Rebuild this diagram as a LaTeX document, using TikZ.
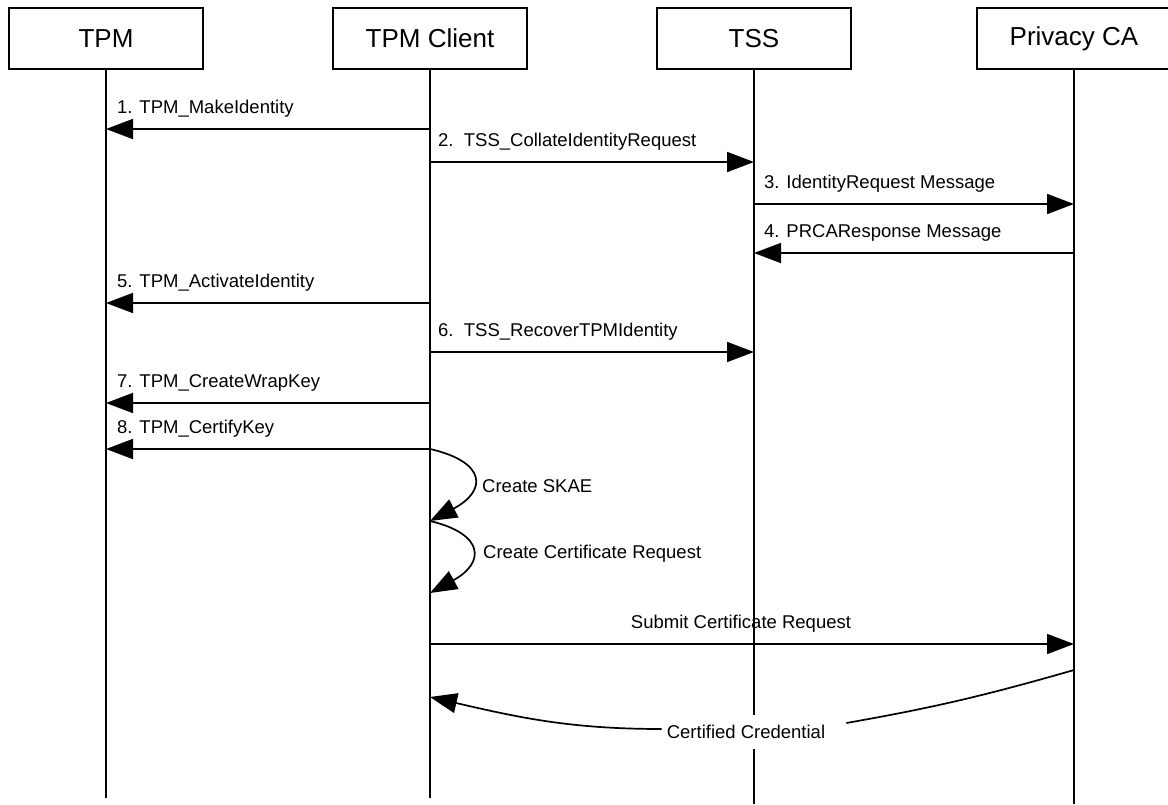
\documentclass[tikz,border=0pt]{standalone}
\usepackage{fontspec}
\setmainfont{Liberation Sans}
\usetikzlibrary{arrows.meta}
\tikzset{
  actor/.style={draw,line width=1.5pt,minimum width=194pt,minimum height=61pt,
    font=\fontsize{26}{30}\selectfont},
  life/.style={line width=1.5pt},
  msg/.style={line width=1.7pt,-{Triangle[length=27pt,width=20pt]}},
  lbl/.style={anchor=base west,inner sep=0pt,font=\fontsize{18.5}{22}\selectfont},
}
\begin{document}
\begin{tikzpicture}[x=1pt,y=-1pt]
  \useasboundingbox (0,0) rectangle (1168,804);
  \node[actor] (tpm) at (106,38.5) {TPM};
  \node[actor] (client) at (430,38.5) {TPM Client};
  \node[actor] (tss) at (754,38.5) {TSS};
  \node[actor] (pca) at (1074,38.5) {Privacy CA};
  \coordinate (short) at (0,798);
  \coordinate (long) at (0,804);
  \foreach \n/\e in {tpm/short,client/short,tss/long,pca/long}
    \draw[life] (\n.south) -- (\n |- \e);
  \coordinate (r1) at (0,129);
  \coordinate (r2) at (0,162);
  \coordinate (r3) at (0,204);
  \coordinate (r4) at (0,253);
  \coordinate (r5) at (0,303);
  \coordinate (r6) at (0,352);
  \coordinate (r7) at (0,403);
  \coordinate (r8) at (0,449);
  \coordinate (r9) at (0,521);
  \coordinate (r10) at (0,593);
  \coordinate (r11) at (0,644);
  \coordinate (r12) at (0,670);
  \coordinate (r13) at (0,697);
  \draw[msg] (client |- r1) -- (tpm |- r1);
  \node[lbl] (l1) at ([xshift=11pt,yshift=16pt]tpm |- r1) {1. TPM\_MakeIdentity};
  \draw[msg] (client |- r2) -- (tss |- r2);
  \node[lbl] (l2) at ([xshift=8pt,yshift=16pt]client |- r2) {2.\ \ TSS\_CollateIdentityRequest};
  \draw[msg] (tss |- r3) -- (pca |- r3);
  \node[lbl] (l3) at ([xshift=10pt,yshift=16pt]tss |- r3) {3. IdentityRequest Message};
  \draw[msg] (pca |- r4) -- (tss |- r4);
  \node[lbl] (l4) at ([xshift=10pt,yshift=16pt]tss |- r4) {4. PRCAResponse Message};
  \draw[msg] (client |- r5) -- (tpm |- r5);
  \node[lbl] (l5) at ([xshift=11pt,yshift=16pt]tpm |- r5) {5. TPM\_ActivateIdentity};
  \draw[msg] (client |- r6) -- (tss |- r6);
  \node[lbl] (l6) at ([xshift=8pt,yshift=16pt]client |- r6) {6.\ \ TSS\_RecoverTPMIdentity};
  \draw[msg] (client |- r7) -- (tpm |- r7);
  \node[lbl] (l7) at ([xshift=11pt,yshift=16pt]tpm |- r7) {7. TPM\_CreateWrapKey};
  \draw[msg] (client |- r8) -- (tpm |- r8);
  \node[lbl] (l8) at ([xshift=11pt,yshift=16pt]tpm |- r8) {8. TPM\_CertifyKey};
  \draw[msg] (client |- r8) .. controls +(57,13) and +(57,-30) .. (client |- r9);
  \node[lbl] (skae) at (482,492) {Create SKAE};
  \draw[msg] (client |- r9) .. controls +(55,13) and +(55,-30) .. (client |- r10);
  \node[lbl] (csr) at (483,558) {Create Certificate Request};
  \draw[msg] (client |- r11) -- (pca |- r11);
  \node[lbl,anchor=base] (submit) at (741,628) {Submit Certificate Request};
  \node[lbl,anchor=center,fill=white,inner ysep=10pt] (cred) at (746,732) {Certified Credential};
  \draw[line width=1.7pt] (pca |- r12) to[out=196,in=10] ([xshift=21pt,yshift=9pt]cred.east);
  \draw[msg] ([xshift=-5pt,yshift=3pt]cred.west) to[out=180,in=-13] (client |- r13);
\end{tikzpicture}
\end{document}
